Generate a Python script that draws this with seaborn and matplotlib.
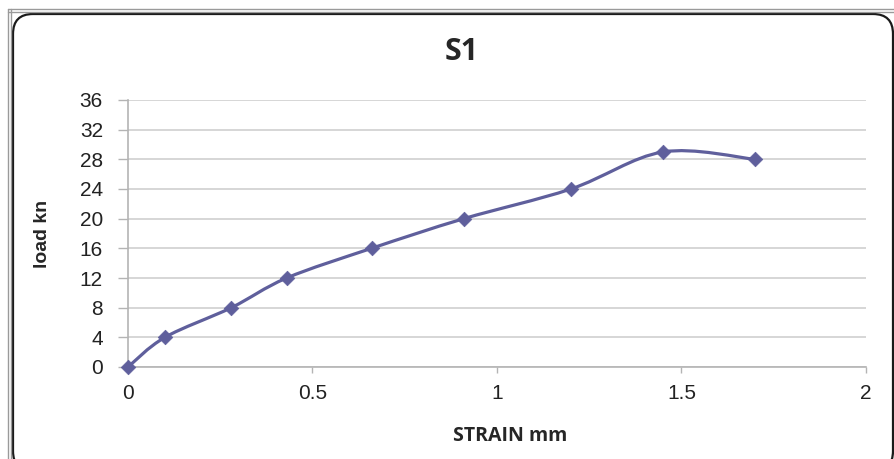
import numpy as np
import matplotlib
matplotlib.use("Agg")
import matplotlib.pyplot as plt
import seaborn as sns
from matplotlib.path import Path
from matplotlib.patches import PathPatch, FancyBboxPatch
from matplotlib.lines import Line2D

# ---- data ----
strain = [0, 0.1, 0.28, 0.43, 0.66, 0.91, 1.2, 1.45, 1.7]
load = [0, 4, 8, 12, 16, 20, 24, 29, 28]
x_ticks = [0, 0.5, 1, 1.5, 2]
x_tick_labels = ["0", "0.5", "1", "1.5", "2"]
y_ticks = [0, 4, 8, 12, 16, 20, 24, 28, 32, 36]
title = "S1"
xlabel = "STRAIN mm"
ylabel = "load kn"

color = "#5f5f9c"

sns.set_theme(style="white")
plt.rcParams["font.family"] = ["Liberation Sans", "DejaVu Sans"]

W, H = 895, 459
fig = plt.figure(figsize=(W / 100, H / 100), dpi=100)
ax = fig.add_axes([128 / W, 1 - 367 / H, (866 - 128) / W, (367 - 100) / H])

# smooth (Excel-like) line through the data points
pts = np.column_stack([strain, load]).astype(float)
n = len(pts)
verts = [pts[0]]
codes = [Path.MOVETO]
for i in range(n - 1):
    p0 = pts[i - 1] if i > 0 else pts[i]
    p1 = pts[i]
    p2 = pts[i + 1]
    p3 = pts[i + 2] if i + 2 < n else pts[i + 1]
    verts += [p1 + (p2 - p0) / 6, p2 - (p3 - p1) / 6, p2]
    codes += [Path.CURVE4] * 3
ax.add_patch(PathPatch(Path(verts, codes), fill=False, ec=color, lw=2.3,
                       capstyle="round", joinstyle="round", zorder=3))

sns.scatterplot(x=strain, y=load, marker="D", s=55, color=color,
                edgecolor=color, linewidth=0.5, ax=ax, zorder=4, clip_on=False)

ax.set_xlim(0, 2)
ax.set_ylim(0, 36)
ax.set_xticks(x_ticks)
ax.set_xticklabels(x_tick_labels)
ax.set_yticks(y_ticks)
ax.set_xlabel("")
ax.set_ylabel("")

for s in ["top", "right"]:
    ax.spines[s].set_visible(False)
for s in ["left", "bottom"]:
    ax.spines[s].set_color("#b4b4b4")
    ax.spines[s].set_linewidth(1.2)

ax.yaxis.grid(True, color="#cfcfcf", linewidth=1.2)
ax.xaxis.grid(False)
ax.set_axisbelow(True)
ax.tick_params(axis="y", direction="out", length=7, width=1.0, color="#b4b4b4",
               pad=11, labelsize=15, labelcolor="#222222", left=True)
ax.tick_params(axis="x", direction="out", length=4, width=1.0, color="#b4b4b4",
               pad=8, labelsize=15, labelcolor="#222222", bottom=True)

fig.text(462 / W, 1 - 52 / H, title, ha="center", va="center",
         fontsize=22, fontweight="bold", family=["Open Sans", "DejaVu Sans"])
fig.text(510 / W, 1 - 436 / H, xlabel, ha="center", va="center",
         fontsize=14, fontweight="bold", family=["Open Sans", "DejaVu Sans"])
fig.text(43 / W, 1 - 234 / H, ylabel, ha="center", va="center", rotation=90,
         fontsize=14, fontweight="bold",
         family=["Liberation Sans Narrow", "Liberation Sans", "DejaVu Sans"])

# chart frame
frame = FancyBboxPatch((13, -12), 880, H - 13 + 12 - 1,
                       boxstyle="round,pad=0,rounding_size=20",
                       transform=None, fill=False, ec="#1a1a1a", lw=1.6)
fig.add_artist(frame)
for xx in (8, 11):
    fig.add_artist(Line2D([xx / W, xx / W], [0, 1 - 9 / H], color="#9a9a9a", lw=1.0))
for yy in (9, 12):
    fig.add_artist(Line2D([xx / W for xx in (8, W)], [1 - yy / H, 1 - yy / H],
                          color="#9a9a9a", lw=1.0))

fig.savefig("out.png", dpi=100)
